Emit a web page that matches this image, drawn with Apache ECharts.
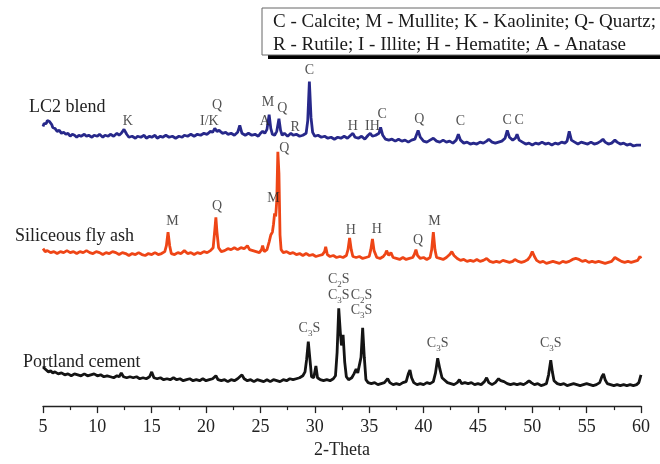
<!DOCTYPE html>
<html>
<head>
<meta charset="utf-8">
<script src="https://cdn.jsdelivr.net/npm/echarts@6/dist/echarts.min.js"></script>
<style>
    html, body { margin: 0; padding: 0; background: #fff; }
    #chart { width: 660px; height: 464px; }
</style>
</head>
<body>
<div id="chart"></div>
<script>
    // 2-Theta tick values
    const xTicks = [5, 10, 15, 20, 25, 30, 35, 40, 45, 50, 55, 60];

    // LC2 blend pattern (offset intensity, arbitrary units)
    const lc2Blend = [
        [5.0,286],[5.1,289],[5.2,291],[5.3,289],[5.4,292],[5.5,290],[5.6,291],[5.8,288],[5.9,285],[6.1,284],
        [6.3,281],[6.5,282],[6.7,279],[6.9,280],[7.1,278],[7.3,279],[7.5,276],[7.7,278],[7.9,277],[8.1,275],
        [8.3,277],[8.5,276],[8.8,278],[9.0,276],[9.2,277],[9.5,275],[9.7,277],[10.0,276],[10.2,278],[10.5,275],
        [10.7,277],[11.0,276],[11.2,278],[11.5,276],[11.8,279],[12.0,277],[12.2,279],[12.45,283],[12.7,278],[12.9,275],
        [13.2,276],[13.5,274],[13.7,276],[14.0,275],[14.3,277],[14.5,274],[14.8,276],[15.0,275],[15.3,277],[15.5,274],
        [15.8,276],[16.0,275],[16.3,277],[16.6,275],[16.9,276],[17.2,274],[17.5,276],[17.8,275],[18.0,277],[18.3,276],
        [18.6,278],[18.9,276],[19.2,278],[19.5,277],[19.8,279],[20.1,278],[20.4,281],[20.6,280],[20.8,284],[21.0,281],
        [21.2,282],[21.5,279],[21.8,280],[22.0,278],[22.3,279],[22.6,277],[22.9,280],[23.1,287],[23.3,279],[23.6,277],
        [23.9,279],[24.2,277],[24.5,278],[24.8,276],[25.0,279],[25.2,281],[25.4,279],[25.6,283],[25.8,298],[25.95,284],
        [26.1,278],[26.3,277],[26.5,281],[26.7,294],[26.85,282],[27.0,277],[27.2,279],[27.5,276],[27.8,279],[28.0,277],
        [28.3,278],[28.6,276],[28.9,277],[29.2,279],[29.35,292],[29.5,332],[29.65,295],[29.8,280],[30.0,276],[30.3,277],
        [30.6,275],[30.9,276],[31.2,274],[31.5,275],[31.8,273],[32.1,275],[32.4,274],[32.7,276],[33.0,274],[33.3,277],
        [33.5,279],[33.7,275],[34.0,274],[34.3,276],[34.6,273],[34.9,277],[35.1,279],[35.3,276],[35.6,277],[35.9,279],
        [36.05,285],[36.25,277],[36.5,273],[36.8,272],[37.1,273],[37.4,271],[37.7,273],[38.0,271],[38.3,272],[38.6,270],
        [38.9,272],[39.2,273],[39.5,282],[39.7,275],[40.0,271],[40.3,270],[40.6,272],[40.9,274],[41.2,271],[41.5,270],
        [41.8,272],[42.1,270],[42.4,271],[42.7,269],[43.0,272],[43.2,278],[43.4,272],[43.7,269],[44.0,270],[44.3,268],
        [44.6,269],[44.9,268],[45.2,270],[45.5,269],[45.8,271],[46.0,273],[46.3,270],[46.6,269],[46.9,270],[47.2,271],
        [47.5,274],[47.7,282],[47.9,275],[48.2,272],[48.45,274],[48.6,278],[48.8,272],[49.1,270],[49.4,268],[49.7,269],
        [50.0,267],[50.3,269],[50.6,268],[50.9,270],[51.2,268],[51.5,269],[51.8,267],[52.1,269],[52.4,268],[52.7,270],
        [53.0,269],[53.2,271],[53.4,281],[53.6,272],[53.9,270],[54.2,268],[54.5,270],[54.8,269],[55.1,268],[55.4,270],
        [55.7,268],[56.0,269],[56.3,271],[56.5,273],[56.7,270],[57.0,268],[57.3,269],[57.6,272],[57.8,270],[58.1,268],
        [58.4,269],[58.7,267],[59.0,268],[59.3,266],[59.6,267],[60.0,267]
    ];

    // Siliceous fly ash pattern
    const flyAsh = [
        [5.0,161],[5.2,158],[5.4,159],[5.7,157],[6.0,158],[6.3,156],[6.6,158],[6.9,157],[7.2,159],[7.5,157],
        [7.8,158],[8.1,156],[8.4,158],[8.7,157],[9.0,159],[9.3,157],[9.6,156],[9.9,158],[10.2,157],[10.5,155],
        [10.8,157],[11.1,156],[11.4,158],[11.7,157],[12.0,155],[12.3,157],[12.6,156],[12.9,154],[13.2,156],[13.5,155],
        [13.8,157],[14.1,155],[14.4,154],[14.7,156],[15.0,155],[15.3,157],[15.6,155],[15.9,156],[16.2,158],[16.35,164],
        [16.5,178],[16.65,164],[16.8,156],[17.1,155],[17.4,157],[17.7,156],[18.0,159],[18.3,156],[18.6,157],[18.9,155],
        [19.2,157],[19.5,156],[19.8,158],[20.1,157],[20.4,159],[20.65,162],[20.8,180],[20.9,193],[21.0,178],[21.15,162],
        [21.4,158],[21.7,159],[22.0,161],[22.3,160],[22.6,162],[22.9,160],[23.2,162],[23.5,161],[23.8,164],[24.0,160],
        [24.3,159],[24.6,158],[24.9,157],[25.1,160],[25.2,164],[25.35,158],[25.6,160],[25.8,168],[25.95,175],[26.1,178],
        [26.2,186],[26.3,197],[26.4,194],[26.5,210],[26.6,260],[26.7,238],[26.8,175],[26.9,160],[27.1,157],[27.4,158],
        [27.7,156],[28.0,157],[28.3,155],[28.6,156],[28.9,154],[29.2,156],[29.5,154],[29.8,155],[30.1,153],[30.4,154],
        [30.7,155],[30.9,158],[31.0,163],[31.15,155],[31.4,153],[31.7,154],[32.0,152],[32.3,153],[32.6,152],[32.9,154],
        [33.05,160],[33.2,172],[33.35,160],[33.5,153],[33.8,152],[34.1,153],[34.4,151],[34.7,152],[35.0,153],[35.15,160],
        [35.3,171],[35.45,159],[35.7,152],[36.0,151],[36.3,153],[36.5,156],[36.6,159],[36.8,154],[37.0,157],[37.2,152],
        [37.5,151],[37.8,150],[38.1,152],[38.4,150],[38.7,151],[39.0,152],[39.15,155],[39.3,160],[39.45,154],[39.7,151],
        [40.0,152],[40.3,150],[40.6,152],[40.75,160],[40.9,178],[41.05,160],[41.2,152],[41.5,151],[41.8,150],[42.1,152],
        [42.4,155],[42.6,158],[42.8,154],[43.1,151],[43.4,149],[43.7,150],[44.0,148],[44.3,149],[44.6,148],[44.9,150],
        [45.2,148],[45.5,149],[45.8,151],[46.1,148],[46.4,147],[46.7,148],[47.0,147],[47.3,149],[47.6,148],[47.9,147],
        [48.2,148],[48.4,150],[48.7,148],[49.0,147],[49.3,148],[49.6,150],[49.8,153],[50.0,158],[50.2,153],[50.4,149],
        [50.7,147],[51.0,148],[51.3,146],[51.6,147],[51.9,148],[52.2,147],[52.5,146],[52.8,148],[53.1,147],[53.4,148],
        [53.7,150],[54.0,151],[54.1,152],[54.3,150],[54.6,148],[54.9,149],[55.2,147],[55.5,148],[55.8,147],[56.1,148],
        [56.4,147],[56.7,146],[57.0,147],[57.3,148],[57.6,152],[57.9,150],[58.2,148],[58.5,147],[58.8,148],[59.1,147],
        [59.4,148],[59.7,149],[59.9,153],[60.0,151]
    ];

    // Portland cement pattern
    const portland = [
        [5.0,40],[5.1,38],[5.3,37],[5.5,35],[5.7,36],[5.9,34],[6.1,35],[6.4,33],[6.7,34],[7.0,32],
        [7.3,33],[7.6,31],[7.9,33],[8.2,32],[8.5,31],[8.8,33],[9.1,31],[9.4,32],[9.7,33],[10.0,31],
        [10.3,32],[10.6,30],[10.9,31],[11.2,30],[11.5,29],[11.8,31],[12.0,30],[12.2,34],[12.4,30],[12.7,29],
        [13.0,30],[13.3,29],[13.6,30],[13.9,28],[14.2,29],[14.5,28],[14.8,30],[15.0,35],[15.2,29],[15.5,28],
        [15.8,29],[16.1,27],[16.4,28],[16.7,27],[17.0,29],[17.3,27],[17.6,28],[17.9,26],[18.2,27],[18.5,28],
        [18.8,26],[19.1,27],[19.4,26],[19.7,28],[20.0,26],[20.3,27],[20.6,28],[20.9,31],[21.1,27],[21.4,26],
        [21.7,27],[22.0,25],[22.3,27],[22.6,26],[22.9,28],[23.1,30],[23.3,32],[23.5,28],[23.8,26],[24.1,27],
        [24.4,25],[24.7,27],[25.0,26],[25.3,25],[25.6,27],[25.9,25],[26.2,27],[26.5,26],[26.8,25],[27.1,27],
        [27.4,26],[27.7,28],[28.0,27],[28.3,28],[28.6,29],[28.9,31],[29.1,35],[29.25,48],[29.4,66],[29.55,48],
        [29.7,30],[29.9,29],[30.1,41],[30.25,29],[30.5,27],[30.8,26],[31.1,27],[31.4,26],[31.7,28],[31.9,31],
        [32.05,55],[32.2,100],[32.35,75],[32.45,62],[32.6,73],[32.75,45],[32.9,30],[33.1,27],[33.4,29],[33.6,33],
        [33.8,38],[33.95,34],[34.1,32],[34.25,50],[34.4,80],[34.55,50],[34.7,27],[34.9,24],[35.2,23],[35.5,24],
        [35.8,22],[36.1,23],[36.4,24],[36.7,28],[36.9,24],[37.2,22],[37.5,23],[37.8,22],[38.1,24],[38.4,25],
        [38.6,33],[38.75,37],[38.9,29],[39.1,24],[39.4,22],[39.7,23],[40.0,22],[40.3,24],[40.6,23],[40.9,25],
        [41.1,34],[41.3,49],[41.5,38],[41.7,29],[41.9,27],[42.2,24],[42.5,23],[42.8,22],[43.1,24],[43.3,27],
        [43.5,23],[43.8,24],[44.1,23],[44.4,24],[44.7,22],[45.0,23],[45.3,22],[45.6,25],[45.8,29],[46.0,24],
        [46.3,22],[46.6,24],[46.9,28],[47.1,26],[47.4,25],[47.7,23],[48.0,22],[48.3,23],[48.6,22],[48.9,23],
        [49.2,22],[49.5,24],[49.7,26],[49.9,24],[50.2,22],[50.5,23],[50.8,21],[51.1,22],[51.3,23],[51.5,32],
        [51.7,47],[51.85,35],[52.0,26],[52.3,23],[52.6,22],[52.9,23],[53.2,21],[53.5,22],[53.8,23],[54.1,22],
        [54.4,21],[54.7,22],[55.0,23],[55.3,22],[55.6,21],[55.9,22],[56.2,24],[56.4,30],[56.55,33],[56.7,27],
        [56.9,23],[57.2,22],[57.5,21],[57.8,22],[58.1,21],[58.4,22],[58.7,21],[59.0,22],[59.3,21],[59.6,22],
        [59.8,24],[60.0,32]
    ];

    // peak labels: [2-theta, intensity, text]  ("_3" = subscript 3)
    const peakLabels = [
        [12.8, 291, 'K'], [20.3, 291, 'I/K'], [21.0, 308, 'Q'], [25.7, 311, 'M'], [27.0, 305, 'Q'],
        [25.4, 291, 'A'], [28.2, 285, 'R'], [29.5, 343, 'C'], [33.5, 286, 'H'], [35.3, 286, 'IH'],
        [36.2, 298, 'C'], [39.6, 293, 'Q'], [43.4, 291, 'C'], [47.7, 292, 'C'], [48.8, 292, 'C'],
        [16.9, 189, 'M'], [21.0, 204, 'Q'], [26.2, 212, 'M'], [27.2, 264, 'Q'], [33.3, 180, 'H'],
        [35.7, 181, 'H'], [39.5, 170, 'Q'], [41.0, 189, 'M'],
        [29.5, 80, 'C_3S'], [32.2, 130, 'C_2S'], [32.2, 113, 'C_3S'], [34.3, 113, 'C_2S'], [34.3, 98, 'C_3S'],
        [41.3, 64, 'C_3S'], [51.7, 64, 'C_3S']
    ];

    const sampleNames = ['LC2 blend', 'Siliceous fly ash', 'Portland cement'];
    const keyLines = [
        'C - Calcite; M - Mullite; K - Kaolinite; Q- Quartz;',
        'R - Rutile; I - Illite; H - Hematite; A - Anatase'
    ];

    const serif = '"Liberation Serif", "DejaVu Serif", serif';
    const chart = echarts.init(document.getElementById('chart'));

    function lineSeries(name, data, color) {
        return {
            name: name,
            type: 'line',
            data: data,
            showSymbol: false,
            lineStyle: { color: color, width: 2.8 },
            itemStyle: { color: color },
            animation: false,
            z: 2
        };
    }

    chart.setOption({
        backgroundColor: '#fff',
        animation: false,
        grid: { left: 43, right: 19, top: 15, bottom: 49 },
        xAxis: {
            type: 'value',
            min: 5,
            max: 60,
            interval: 5,
            name: '2-Theta',
            nameLocation: 'middle',
            nameGap: 33,
            nameTextStyle: { fontFamily: serif, fontSize: 18, color: '#222' },
            axisLine: { lineStyle: { color: '#222', width: 1.3 } },
            axisTick: { show: true, length: 7, lineStyle: { color: '#222', width: 1.3 } },
            minorTick: { show: true, splitNumber: 2, length: 4, lineStyle: { color: '#222', width: 1.2 } },
            splitLine: { show: false },
            axisLabel: {
                fontFamily: serif, fontSize: 18, color: '#222', margin: 12,
                formatter: function (v) { return xTicks.indexOf(v) >= 0 ? String(v) : ''; }
            }
        },
        yAxis: {
            type: 'value',
            min: 0,
            max: 400,
            show: false
        },
        series: [
            lineSeries(sampleNames[0], lc2Blend, '#27288a'),
            lineSeries(sampleNames[1], flyAsh, '#ee4516'),
            lineSeries(sampleNames[2], portland, '#141414'),
            {
                type: 'scatter',
                data: peakLabels,
                symbolSize: 0,
                clip: false,
                silent: true,
                z: 5,
                label: {
                    show: true,
                    position: 'inside',
                    fontFamily: serif,
                    fontSize: 14,
                    color: '#262626',
                    formatter: function (p) {
                        const t = p.data[2];
                        if (t.indexOf('_') >= 0) {
                            return t.replace(/^(\w)_(\d)(\w)$/, '{n|$1}{s|$2}{n|$3}');
                        }
                        return t;
                    },
                    rich: {
                        n: { fontFamily: serif, fontSize: 14, lineHeight: 14, verticalAlign: 'top', color: '#262626' },
                        s: { fontFamily: serif, fontSize: 9, lineHeight: 9, padding: [8, 0, 0, 0], verticalAlign: 'top', color: '#262626' }
                    }
                }
            }
        ],
        graphic: [
            { type: 'rect', shape: { x: 268, y: 55, width: 400, height: 4 }, style: { fill: '#000' }, z: 10 },
            { type: 'rect', shape: { x: 262, y: 8, width: 410, height: 47 }, style: { fill: '#fff', stroke: '#666', lineWidth: 1 }, z: 11 },
            { type: 'text', x: 273, y: 22, style: { text: keyLines[0], font: '19px ' + serif, fill: '#1a1a1a', verticalAlign: 'middle' }, z: 12 },
            { type: 'text', x: 273, y: 45, style: { text: keyLines[1], font: '19px ' + serif, fill: '#1a1a1a', verticalAlign: 'middle' }, z: 12 },
            { type: 'text', x: 29, y: 107, style: { text: sampleNames[0], font: '18px ' + serif, fill: '#222', verticalAlign: 'middle' }, z: 12 },
            { type: 'text', x: 15, y: 236, style: { text: sampleNames[1], font: '18px ' + serif, fill: '#222', verticalAlign: 'middle' }, z: 12 },
            { type: 'text', x: 23, y: 362, style: { text: sampleNames[2], font: '18px ' + serif, fill: '#222', verticalAlign: 'middle' }, z: 12 }
        ]
    });
</script>
</body>
</html>
